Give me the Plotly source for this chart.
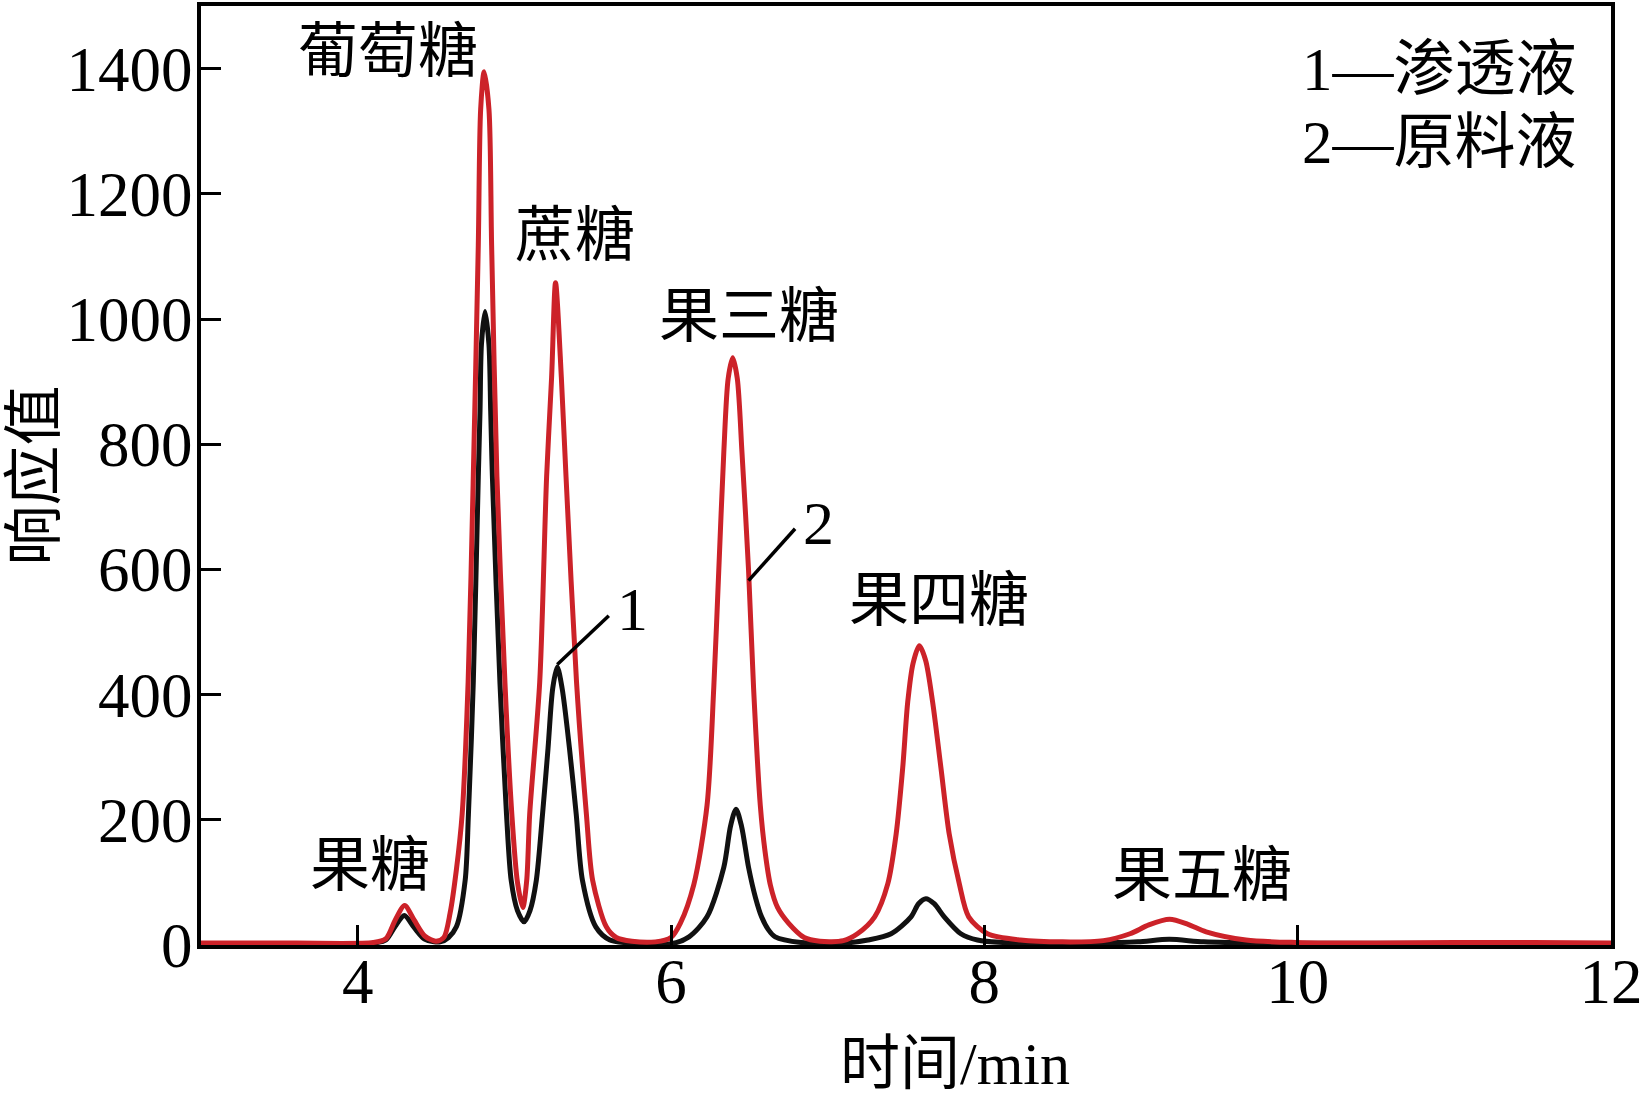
import plotly.graph_objects as go

# Time (min) and response values
t_feed = [3.00, 3.60, 4.10, 4.18, 4.24, 4.30, 4.36, 4.43, 4.50, 4.55, 4.59, 4.63, 4.667, 4.705, 4.737,
          4.77, 4.785, 4.807, 4.838, 4.855, 4.889, 4.94, 4.984, 5.02, 5.054, 5.079, 5.098, 5.162,
          5.206, 5.238, 5.263, 5.30, 5.33, 5.397, 5.46, 5.50, 5.587, 5.65, 5.75, 5.90, 6.00, 6.06,
          6.146, 6.23, 6.273, 6.305, 6.337, 6.365, 6.394, 6.423, 6.453, 6.495, 6.527, 6.57, 6.60,
          6.635, 6.68, 6.75, 6.85, 6.95, 7.10, 7.19, 7.30, 7.384, 7.437, 7.479, 7.511, 7.545, 7.585,
          7.625, 7.67, 7.723, 7.776, 7.84, 7.90, 8.02, 8.23, 8.50, 8.76, 8.93, 9.05, 9.183, 9.30,
          9.416, 9.67, 9.99, 10.5, 11.0, 11.5, 12.0]
v_feed = [3, 3, 4, 10, 40, 63, 40, 14, 6, 12, 51, 120, 209, 420, 737,
          1118, 1335, 1395, 1335, 1118, 748, 420, 209, 100, 60, 103, 209, 420,
          748, 907, 1058, 907, 748, 420, 209, 103, 29, 12, 6, 5, 12, 35,
          97, 223, 411, 599, 787, 905, 938, 905, 787, 599, 411, 223, 150,
          95, 60, 35, 12, 6, 7, 18, 45, 98, 177, 283, 388, 450, 478,
          455, 388, 283, 177, 98, 45, 18, 8, 5, 7, 18, 32, 41, 33,
          21, 8, 4, 3, 4, 4, 3]

t_perm = [3.00, 3.60, 4.10, 4.18, 4.24, 4.298, 4.36, 4.43, 4.527, 4.58, 4.63, 4.686, 4.707, 4.738,
          4.77, 4.781, 4.79, 4.813, 4.838, 4.849, 4.86, 4.908, 4.95, 4.98, 5.02, 5.062, 5.10, 5.14,
          5.18, 5.215, 5.245, 5.274, 5.305, 5.352, 5.395, 5.435, 5.52, 5.61, 5.75, 6.00, 6.115, 6.23,
          6.337, 6.38, 6.415, 6.45, 6.495, 6.54, 6.578, 6.62, 6.665, 6.83, 7.10, 7.257, 7.405, 7.532,
          7.58, 7.627, 7.68, 7.744, 7.85, 7.956, 8.20, 8.70, 8.98, 9.18, 9.40, 9.80, 12.0]
v_perm = [2, 2, 3, 8, 30, 47, 28, 9, 5, 12, 29, 103, 209, 420,
          748, 853, 959, 1012, 959, 853, 748, 420, 209, 103, 55, 37, 55, 103,
          209, 314, 410, 444, 410, 314, 209, 103, 29, 8, 3, 2, 13, 45,
          124, 190, 217, 190, 124, 75, 45, 25, 13, 4, 3, 8, 18, 45,
          66, 74, 66, 45, 18, 8, 3, 3, 5, 9, 5, 3, 2]

peak_names = ["果糖", "葡萄糖", "蔗糖", "果三糖", "果四糖", "果五糖"]
peak_label_t = [4.08, 4.194, 5.387, 6.495, 7.711, 9.39]
peak_label_v = [127, 1427, 1132, 1003, 550, 111]

legend_lines = ["1—渗透液", "2—原料液"]
curve_ids = ["1", "2"]
id_t = [5.757, 6.94]
id_v = [537, 674]
leader_start_t = [5.274, 6.495]
leader_start_v = [448, 582]
leader_end_t = [5.603, 6.792]
leader_end_v = [526, 665]

x_ticks = [4, 6, 8, 10, 12]
y_ticks = [0, 200, 400, 600, 800, 1000, 1200, 1400]

FONT = "Liberation Serif, Times New Roman, Noto Sans CJK SC, serif"
RED = "#cc2229"
BLACK = "#111111"

fig = go.Figure()
fig.add_trace(go.Scatter(x=t_perm, y=v_perm, mode="lines", name="1",
                         line=dict(color=BLACK, width=5, shape="spline", smoothing=0.8)))
fig.add_trace(go.Scatter(x=t_feed, y=v_feed, mode="lines", name="2",
                         line=dict(color=RED, width=5, shape="spline", smoothing=0.8)))

annotations = []
for name, tx, ty in zip(peak_names, peak_label_t, peak_label_v):
    annotations.append(dict(x=tx, y=ty, xref="x", yref="y", text=name, showarrow=False,
                            font=dict(family=FONT, size=60, color="black"),
                            xanchor="center", yanchor="middle"))
for cid, tx, ty in zip(curve_ids, id_t, id_v):
    annotations.append(dict(x=tx, y=ty, xref="x", yref="y", text=cid, showarrow=False,
                            font=dict(family=FONT, size=62, color="black"),
                            xanchor="center", yanchor="middle"))
for i, line in enumerate(legend_lines):
    annotations.append(dict(x=0.977, y=[0.9327, 0.855][i], xref="paper", yref="paper", text=line,
                            showarrow=False, font=dict(family=FONT, size=61, color="black"),
                            xanchor="right", yanchor="middle"))
annotations.append(dict(x=0.5344, y=-0.1272, xref="paper", yref="paper", text="时间/min",
                        showarrow=False, font=dict(family=FONT, size=60, color="black"),
                        xanchor="center", yanchor="middle"))
annotations.append(dict(x=-0.1175, y=0.5003, xref="paper", yref="paper", text="响应值",
                        showarrow=False, textangle=-90, font=dict(family=FONT, size=60, color="black"),
                        xanchor="center", yanchor="middle"))

shapes = []
for x0, y0, x1, y1 in zip(leader_start_t, leader_start_v, leader_end_t, leader_end_v):
    shapes.append(dict(type="line", xref="x", yref="y", x0=x0, y0=y0, x1=x1, y1=y1,
                       line=dict(color="black", width=3.5)))

fig.update_layout(
    width=1645, height=1103,
    margin=dict(l=201, r=27, t=2, b=158),
    paper_bgcolor="white", plot_bgcolor="white",
    showlegend=False,
    annotations=annotations,
    shapes=shapes,
    font=dict(family=FONT, size=63, color="black"),
)
fig.update_xaxes(range=[3, 12], tickvals=x_ticks, ticktext=[str(v) for v in x_ticks],
                 ticks="inside", ticklen=20, tickwidth=3, tickcolor="black",
                 showline=True, linecolor="black", linewidth=4, mirror=True,
                 showgrid=False, zeroline=False, ticklabeloverflow="allow",
                 ticklabelstandoff=-22,
                 tickfont=dict(family=FONT, size=63, color="black"))
fig.update_yaxes(range=[0, 1500], tickvals=y_ticks, ticktext=[str(v) for v in y_ticks],
                 ticks="inside", ticklen=20, tickwidth=3, tickcolor="black",
                 showline=True, linecolor="black", linewidth=4, mirror=True,
                 showgrid=False, zeroline=False, ticklabeloverflow="allow",
                 ticklabelstandoff=-8,
                 tickfont=dict(family=FONT, size=63, color="black"))

fig.write_html("out.html", config={"displayModeBar": False},
               post_script="document.body.style.margin='0';")
